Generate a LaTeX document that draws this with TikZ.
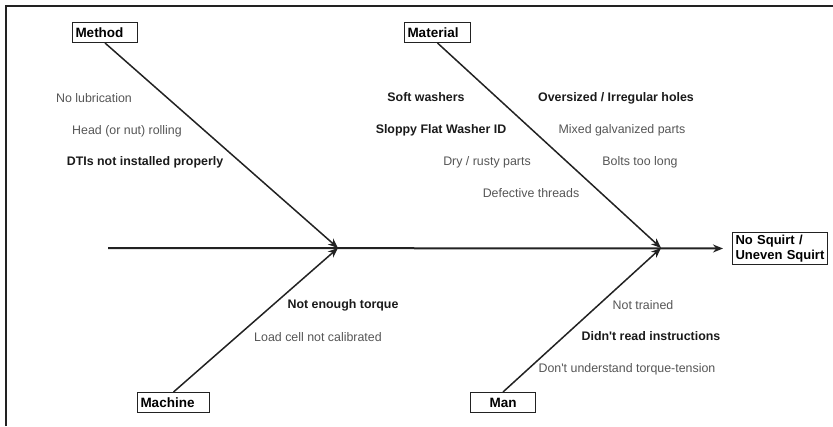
\documentclass[tikz,border=0pt]{standalone}
\usepackage{fontspec}
\setmainfont{Liberation Sans}
\usetikzlibrary{arrows.meta}
\definecolor{cLINE}{HTML}{222222}
\definecolor{cNOTE}{HTML}{555555}
\definecolor{cKEY}{HTML}{1A1A1A}
\tikzset{
  catbox/.style={
    draw=cLINE, line width=1pt,
    fill=white,
    inner xsep=3pt, inner ysep=1pt,
    minimum height=20pt,
    align=left,
    text=black,
    font=\fontsize{13.5}{15}\selectfont\bfseries
  },
  effectbox/.style={
    catbox,
    minimum height=32pt,
    font=\fontsize{13}{14.5}\selectfont\bfseries
  },
  cause/.style={
    inner sep=0pt,
    anchor=base,
    text=cNOTE,
    font=\fontsize{12.4}{14}\selectfont
  },
  keycause/.style={
    cause,
    text=cKEY,
    font=\fontsize{12.4}{14}\selectfont\bfseries
  },
  bone/.style={
    -{Stealth[length=10pt,width=8pt]},
    line width=1.5pt,
    draw=cLINE
  },
  spine/.style={
    bone,
    line width=2pt
  }
}

\begin{document}
\begin{tikzpicture}[x=1pt, y=-1pt]
  \useasboundingbox (0,0) rectangle (833,426);
  \draw[line width=1.3pt, cLINE] (6,426) -- (6,6) -- (833,6);

  % categories and effect
  \node[catbox, text width=59pt, anchor=north west] (method) at (72,22) {Method};
  \node[catbox, text width=60pt, anchor=north west] (material) at (404,22) {Material};
  \node[catbox, text width=66pt, anchor=north west] (machine) at (137,392) {Machine};
  \node[catbox, text width=59pt, align=center, anchor=north west] (man) at (470,392) {Man};
  \node[effectbox, text width=89pt, anchor=north west] (effect) at (732,232) {No Squirt /\\Uneven Squirt};

  \coordinate (tail) at (108,248);
  \coordinate (joinA) at (338,248);
  \coordinate (joinB) at (661,248);

  \draw[spine, shorten >=9pt] (tail) -- (effect.west);
  \draw[bone] (method.south) -- (joinA);
  \draw[bone] (machine.north) -- (joinA);
  \draw[bone] (material.south) -- (joinB);
  \draw[bone] (man.north) -- (joinB);

  % method causes
  \node[cause] (lube) at (94,102) {No lubrication};
  \node[cause] (roll) at (127,134) {Head (or nut) rolling};
  \node[keycause] (dti) at (145,165) {DTIs not installed properly};

  % material causes
  \node[keycause] (soft) at (426,101) {Soft washers};
  \node[keycause] (sloppy) at (441,133) {Sloppy Flat Washer ID};
  \node[cause] (rusty) at (487,165) {Dry / rusty parts};
  \node[cause] (threads) at (531,197) {Defective threads};
  \node[keycause] (holes) at (616,101) {Oversized / Irregular holes};
  \node[cause] (galv) at (622,133) {Mixed galvanized parts};
  \node[cause] (long) at (640,165) {Bolts too long};

  % machine causes
  \node[keycause] (torque) at (343,308) {Not enough torque};
  \node[cause] (cell) at (318,341) {Load cell not calibrated};

  % man causes
  \node[cause] (trained) at (643,309) {Not trained};
  \node[keycause] (read) at (651,340) {Didn\textquotesingle t read instructions};
  \node[cause] (tension) at (627,372) {Don\textquotesingle t understand torque-tension};
\end{tikzpicture}
\end{document}
